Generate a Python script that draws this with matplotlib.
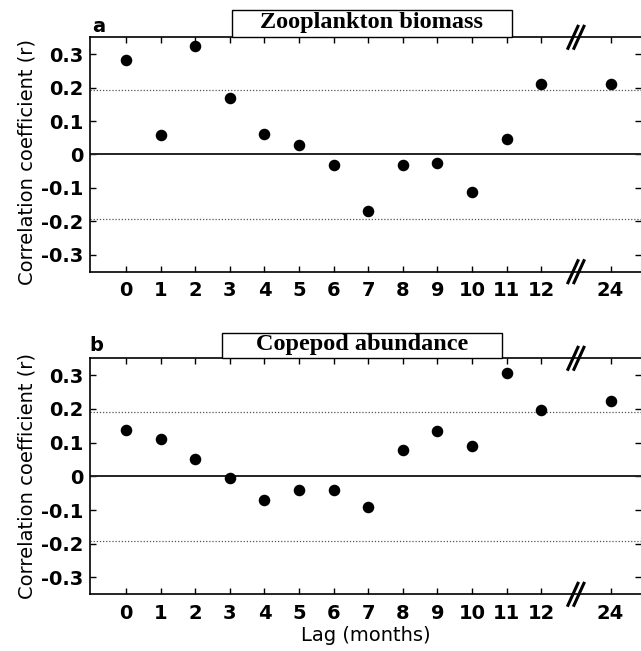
import matplotlib
matplotlib.use("Agg")
import matplotlib.pyplot as plt
from matplotlib.patches import Rectangle
from matplotlib.lines import Line2D

lags = [0, 1, 2, 3, 4, 5, 6, 7, 8, 9, 10, 11, 12, 24]
tick_labels = ["0", "1", "2", "3", "4", "5", "6", "7", "8", "9", "10", "11", "12", "24"]
zoo_biomass = [0.282, 0.058, 0.323, 0.17, 0.06, 0.028, -0.03, -0.17, -0.03, -0.025, -0.112, 0.046, 0.21, 0.21]
copepod_abund = [0.136, 0.112, 0.051, -0.006, -0.071, -0.042, -0.04, -0.09, 0.078, 0.133, 0.091, 0.305, 0.198, 0.223]
sig_level = 0.192
titles = ["Zooplankton biomass", "Copepod abundance"]
panel_letters = ["a", "b"]

# axis positions: lags up to 12 at their own value, 24 after the break
positions = [l if l <= 12 else 14 for l in lags]
break_pos = 13

W, H = 641, 651
plt.rcParams['font.family'] = ['DejaVu Sans']
fig = plt.figure(figsize=(W / 100, H / 100), dpi=100)

# pixel boxes (left, top, right, bottom)
axes_px = [(90, 37.3, 641, 271.7), (90, 358.3, 641, 594.3)]
title_px = [(232, 10, 512, 37.3), (222, 333, 502, 358.3)]
letter_px = [(92, 26), (89, 346)]
ylabel_y = [0.47, 0.5]

for i, vals in enumerate([zoo_biomass, copepod_abund]):
    l, t, r, b = axes_px[i]
    ax = fig.add_axes([l / W, 1 - b / H, (r - l) / W, (b - t) / H])
    ax.plot(positions, vals, 'o', color='black', ms=7.3, zorder=5, clip_on=False)
    ax.axhline(0, color='#222222', lw=1.4)
    ax.axhline(sig_level, color='#555555', lw=0.9, ls=(0, (1, 1.5)))
    ax.axhline(-sig_level, color='#555555', lw=0.9, ls=(0, (1, 1.5)))
    ax.set_xlim(-1.04, 14.88)
    ax.set_ylim(-0.35, 0.35)
    ax.set_xticks(positions)
    ax.set_xticklabels(tick_labels)
    ax.set_yticks([-0.3, -0.2, -0.1, 0, 0.1, 0.2, 0.3])
    ax.set_yticklabels(["-0.3", "-0.2", "-0.1", "0", "0.1", "0.2", "0.3"])
    ax.tick_params(direction='in', top=True, right=True, length=4, width=1,
                   labelsize=14)
    ax.tick_params(axis='y', pad=5)
    ax.tick_params(axis='x', pad=7)
    for lab in ax.get_xticklabels() + ax.get_yticklabels():
        lab.set_fontweight('bold')
    ax.spines['right'].set_visible(False)
    for s in ['left', 'top', 'bottom']:
        ax.spines[s].set_linewidth(1.2)
    ax.set_ylabel("Correlation coefficient (r)", fontsize=14)
    ax.yaxis.set_label_coords(-0.098, ylabel_y[i])
    if i == 1:
        ax.set_xlabel("Lag (months)", fontsize=14, labelpad=2)

    # break marks on top and bottom spines
    for yax in (0, 1):
        for dx in (-3, 3):
            x0 = ax.transData.transform((break_pos, 0))[0]
            y0 = ax.transAxes.transform((0, yax))[1]
            xs = [(x0 + dx - 5) / W, (x0 + dx + 5) / W]
            ys = [(y0 - 11) / H, (y0 + 11) / H]
            fig.add_artist(Line2D(xs, ys, color='black', lw=2.2,
                                  transform=fig.transFigure))
    # title box
    tl, tt, tr, tb = title_px[i]
    fig.add_artist(Rectangle((tl / W, 1 - tb / H), (tr - tl) / W, (tb - tt) / H,
                             transform=fig.transFigure, facecolor='white',
                             edgecolor='black', lw=1.0, zorder=10))
    fig.text((tl + tr) / 2 / W, 1 - (tt + tb) / 2 / H + 0.002, titles[i],
             ha='center', va='center', fontsize=17.5, fontweight='bold',
             family='Liberation Serif', zorder=11)
    lx, ly = letter_px[i]
    fig.text(lx / W, 1 - ly / H, panel_letters[i], ha='left', va='center',
             fontsize=14, fontweight='bold')

fig.savefig("out.png", dpi=100)
